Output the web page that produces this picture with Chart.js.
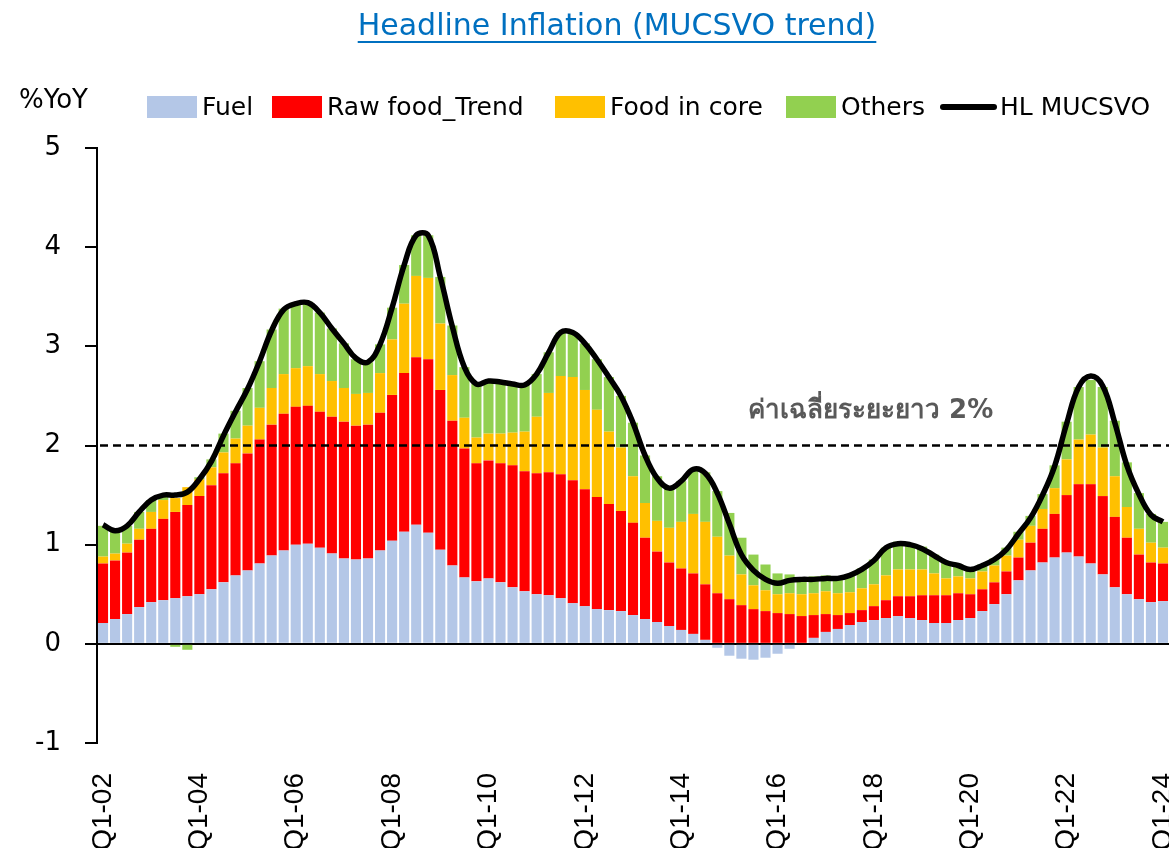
<!DOCTYPE html>
<html>
<head>
<meta charset="utf-8">
<script src="https://cdn.jsdelivr.net/npm/chart.js@4.4.1/dist/chart.umd.min.js"></script>
<style>
  body { margin: 0; background: #fff; }
  #wrap { width: 1169px; height: 848px; }
</style>
</head>
<body>
<div id="wrap"><canvas id="myChart" width="1169" height="848"></canvas></div>
<script>
// quarters Q1-02 .. Q1-24
const quarters = [];
for (let y = 2002; y <= 2024; y++) {
  for (let q = 1; q <= 4; q++) {
    if (y === 2024 && q > 1) break;
    quarters.push("Q" + q + "-" + String(y).slice(2));
  }
}

const fuel = [
  0.21, 0.25, 0.30, 0.37, 0.42, 0.44, 0.46, 0.48,
  0.50, 0.55, 0.62, 0.69, 0.74, 0.81, 0.89, 0.94,
  1.00, 1.01, 0.97, 0.91, 0.86, 0.85, 0.86, 0.94,
  1.04, 1.13, 1.20, 1.12, 0.95, 0.79, 0.67, 0.63,
  0.66, 0.62, 0.57, 0.53, 0.50, 0.49, 0.46, 0.41,
  0.38, 0.35, 0.34, 0.33, 0.29, 0.25, 0.22, 0.18,
  0.14, 0.10, 0.04, -0.04, -0.12, -0.15, -0.16, -0.14,
  -0.10, -0.05, 0.00, 0.06, 0.12, 0.15, 0.19, 0.22,
  0.24, 0.26, 0.28, 0.26, 0.24, 0.21, 0.21, 0.24,
  0.26, 0.33, 0.40, 0.50, 0.64, 0.74, 0.82, 0.87,
  0.92, 0.88, 0.81, 0.70, 0.57, 0.50, 0.45, 0.42,
  0.43
];
const rawFood = [
  0.60, 0.59, 0.62, 0.68, 0.74, 0.82, 0.87, 0.92,
  0.99, 1.05, 1.10, 1.13, 1.18, 1.25, 1.32, 1.38,
  1.39, 1.39, 1.37, 1.38, 1.38, 1.35, 1.35, 1.39,
  1.47, 1.60, 1.69, 1.75, 1.61, 1.46, 1.30, 1.19,
  1.19, 1.20, 1.23, 1.21, 1.22, 1.24, 1.25, 1.24,
  1.18, 1.13, 1.07, 1.01, 0.93, 0.82, 0.71, 0.64,
  0.62, 0.61, 0.56, 0.51, 0.45, 0.39, 0.35, 0.33,
  0.31, 0.30, 0.28, 0.23, 0.18, 0.14, 0.12, 0.12,
  0.14, 0.18, 0.20, 0.22, 0.25, 0.28, 0.28, 0.27,
  0.24, 0.22, 0.22, 0.23, 0.23, 0.28, 0.34, 0.44,
  0.58, 0.73, 0.80, 0.79, 0.71, 0.57, 0.45, 0.40,
  0.38
];
const foodCore = [
  0.07, 0.07, 0.09, 0.11, 0.17, 0.19, 0.14, 0.18,
  0.17, 0.18, 0.21, 0.25, 0.28, 0.32, 0.37, 0.40,
  0.39, 0.40, 0.38, 0.36, 0.34, 0.32, 0.32, 0.40,
  0.56, 0.70, 0.82, 0.82, 0.67, 0.46, 0.31, 0.26,
  0.27, 0.30, 0.33, 0.40, 0.57, 0.80, 0.99, 1.04,
  1.00, 0.88, 0.73, 0.64, 0.47, 0.35, 0.31, 0.35,
  0.47, 0.60, 0.63, 0.57, 0.44, 0.31, 0.24, 0.21,
  0.19, 0.21, 0.22, 0.22, 0.23, 0.22, 0.21, 0.22,
  0.22, 0.25, 0.27, 0.27, 0.26, 0.22, 0.17, 0.17,
  0.16, 0.18, 0.17, 0.16, 0.18, 0.17, 0.20, 0.26,
  0.36, 0.45, 0.50, 0.49, 0.41, 0.31, 0.26, 0.20,
  0.16
];
const others = [
  0.31, 0.24, 0.18, 0.17, 0.12, 0.05, -0.03, -0.06,
  0.02, 0.08, 0.19, 0.28, 0.38, 0.47, 0.59, 0.66,
  0.66, 0.65, 0.62, 0.53, 0.45, 0.35, 0.31, 0.29,
  0.32, 0.39, 0.41, 0.43, 0.47, 0.50, 0.51, 0.54,
  0.54, 0.52, 0.50, 0.47, 0.43, 0.41, 0.44, 0.45,
  0.47, 0.51, 0.55, 0.52, 0.54, 0.48, 0.45, 0.40,
  0.41, 0.45, 0.50, 0.46, 0.43, 0.37, 0.31, 0.26,
  0.21, 0.19, 0.16, 0.17, 0.16, 0.17, 0.18, 0.20,
  0.25, 0.28, 0.28, 0.25, 0.23, 0.19, 0.16, 0.12,
  0.10, 0.07, 0.07, 0.08, 0.08, 0.10, 0.15, 0.23,
  0.38, 0.53, 0.55, 0.61, 0.56, 0.45, 0.36, 0.29,
  0.26
];
const hlMucsvo = [
  1.20, 1.14, 1.19, 1.33, 1.45, 1.50, 1.50, 1.53,
  1.66, 1.84, 2.10, 2.34, 2.57, 2.85, 3.16, 3.37,
  3.43, 3.44, 3.34, 3.18, 3.03, 2.88, 2.84, 3.02,
  3.39, 3.82, 4.12, 4.12, 3.70, 3.20, 2.79, 2.62,
  2.65, 2.64, 2.62, 2.61, 2.72, 2.94, 3.14, 3.14,
  3.03, 2.87, 2.69, 2.50, 2.23, 1.90, 1.67, 1.57,
  1.64, 1.76, 1.72, 1.52, 1.21, 0.90, 0.74, 0.65,
  0.61, 0.64, 0.65, 0.65, 0.66, 0.66, 0.69, 0.75,
  0.84, 0.97, 1.01, 1.00, 0.96, 0.89, 0.82, 0.79,
  0.75, 0.79, 0.85, 0.95, 1.11, 1.27, 1.50, 1.79,
  2.22, 2.59, 2.70, 2.60, 2.23, 1.80, 1.51, 1.30,
  1.23
];
const longRunAvg = 2;
const yTicks = [-1, 0, 1, 2, 3, 4, 5];

const seriesNames = ["Fuel", "Raw food_Trend", "Food in core", "Others", "HL MUCSVO"];
const seriesColors = ["#B4C7E7", "#FF0000", "#FFC000", "#92D050", "#000000"];

const FONT = "'DejaVu Sans', sans-serif";

// title, legend, 2% line and note
const decorPlugin = {
  id: "decor",
  afterDatasetsDraw(chart) {
    const ctx = chart.ctx;
    const area = chart.chartArea;
    const y2 = chart.scales.y.getPixelForValue(longRunAvg);
    ctx.save();
    ctx.strokeStyle = "#000";
    ctx.lineWidth = 2.5;
    ctx.setLineDash([8, 5]);
    ctx.beginPath();
    ctx.moveTo(area.left + 3, y2);
    ctx.lineTo(area.right, y2);
    ctx.stroke();
    ctx.restore();
  },
  afterDraw(chart) {
    const ctx = chart.ctx;
    ctx.save();
    // title
    ctx.font = "30px " + FONT;
    ctx.fillStyle = "#0070C0";
    ctx.textAlign = "center";
    ctx.textBaseline = "middle";
    const title = "Headline Inflation (MUCSVO trend)";
    ctx.fillText(title, 617, 27);
    const tw = ctx.measureText(title).width;
    ctx.fillRect(617 - tw / 2, 41, tw, 2);

    // y unit
    ctx.font = "26px " + FONT;
    ctx.fillStyle = "#000";
    ctx.textAlign = "left";
    ctx.fillText("%YoY", 19, 101);

    // legend
    const legendX = [147, 272, 555, 786, 941];
    ctx.font = "25px " + FONT;
    seriesNames.forEach((name, i) => {
      const x = legendX[i];
      if (i < 4) {
        ctx.fillStyle = seriesColors[i];
        ctx.fillRect(x, 96, 50, 22);
        ctx.fillStyle = "#000";
        ctx.fillText(name, x + 55, 108);
      } else {
        ctx.strokeStyle = "#000";
        ctx.lineWidth = 6;
        ctx.lineCap = "round";
        ctx.beginPath();
        ctx.moveTo(x + 2, 107);
        ctx.lineTo(x + 53, 107);
        ctx.stroke();
        ctx.fillStyle = "#000";
        ctx.fillText(name, x + 59, 108);
      }
    });

    // note
    ctx.font = "bold 26px " + FONT;
    ctx.fillStyle = "#595959";
    ctx.fillText("ค่าเฉลี่ยระยะยาว 2%", 748, 411);
    ctx.restore();
  }
};

const ctx = document.getElementById("myChart");

const myChart = new Chart(ctx, {
  type: "bar",
  data: {
    labels: quarters,
    datasets: [
      {
        type: "line",
        label: seriesNames[4],
        data: hlMucsvo,
        borderColor: seriesColors[4],
        borderWidth: 5.5,
        pointRadius: 0,
        tension: 0.4,
        stack: "line",
        order: 0,
      },
      { label: seriesNames[0], data: fuel, backgroundColor: seriesColors[0], stack: "bars", order: 1 },
      { label: seriesNames[1], data: rawFood, backgroundColor: seriesColors[1], stack: "bars", order: 1 },
      { label: seriesNames[2], data: foodCore, backgroundColor: seriesColors[2], stack: "bars", order: 1 },
      { label: seriesNames[3], data: others, backgroundColor: seriesColors[3], stack: "bars", order: 1 },
    ],
  },
  options: {
    responsive: false,
    animation: false,
    devicePixelRatio: 1,
    datasets: {
      bar: { barPercentage: 0.84, categoryPercentage: 1.0 },
    },
    layout: { padding: { top: 148, right: 0, left: 0, bottom: 0 } },
    plugins: {
      legend: { display: false },
      title: { display: false },
      tooltip: { enabled: false },
    },
    scales: {
      x: {
        stacked: true,
        grid: { display: false },
        border: { display: false },
        ticks: {
          autoSkip: false,
          maxRotation: 90,
          minRotation: 90,
          padding: 22,
          color: "#000",
          font: { family: "'Liberation Sans', Arial, sans-serif", size: 28 },
          callback: function (val, index) {
            return index % 8 === 0 ? quarters[index] : "";
          },
        },
        afterFit(scale) {
          scale.height = 105;
          scale.paddingLeft = 0;
          scale.paddingRight = 0;
        },
      },
      y: {
        stacked: true,
        min: -1,
        max: 5,
        afterBuildTicks(scale) {
          scale.ticks = yTicks.map((v) => ({ value: v }));
        },
        grid: {
          drawOnChartArea: true,
          drawTicks: true,
          tickLength: 12,
          tickColor: "#000",
          tickWidth: 2,
          lineWidth: 2,
          color: (c) => (c.tick && c.tick.value === 0 ? "#000" : "rgba(0,0,0,0)"),
        },
        border: { display: true, color: "#000", width: 2 },
        ticks: {
          padding: 24,
          color: "#000",
          font: { family: "'DejaVu Sans', sans-serif", size: 26 },
        },
        afterFit(scale) {
          scale.width = 97;
          scale.paddingTop = 0;
          scale.paddingBottom = 0;
        },
      },
    },
  },
  plugins: [decorPlugin],
});
</script>
</body>
</html>
